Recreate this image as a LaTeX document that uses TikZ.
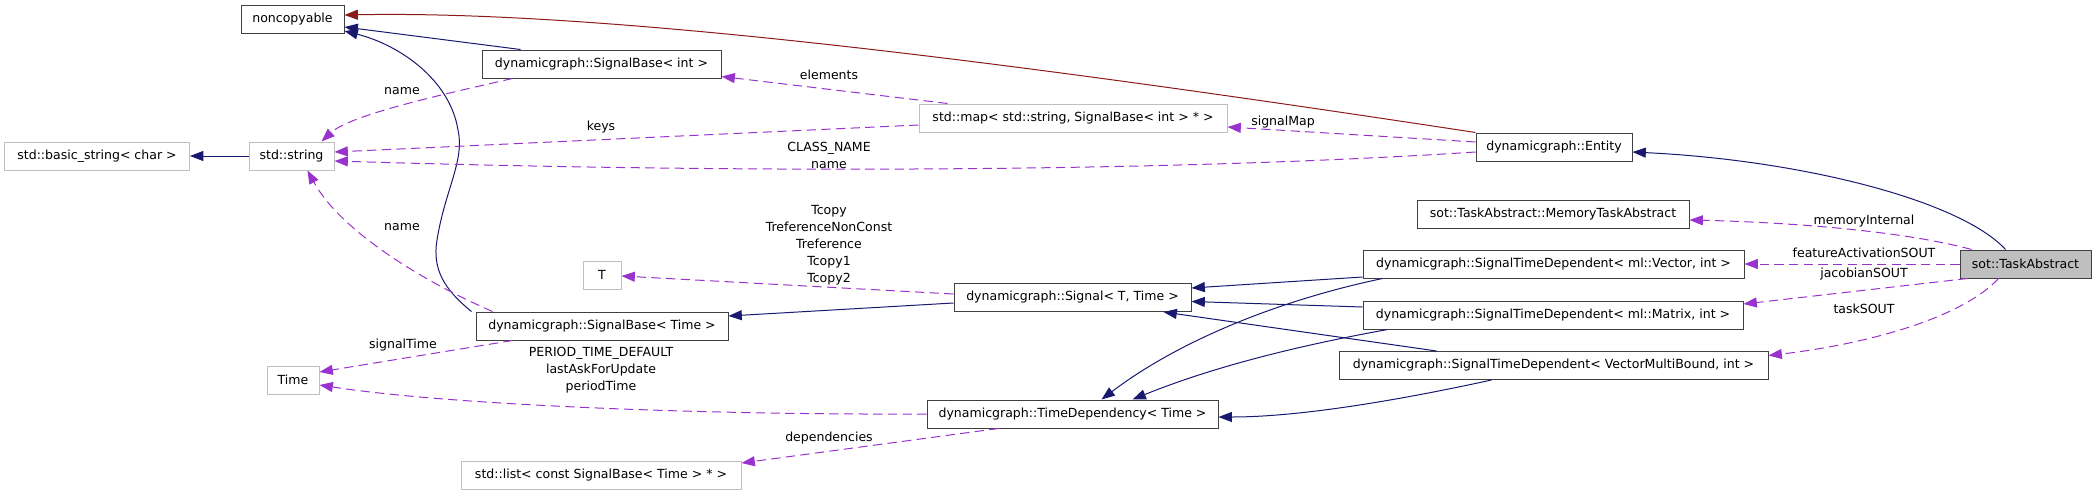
\documentclass[tikz,border=0pt]{standalone}
\usepackage{fontspec}
\setmainfont{DejaVu Sans}
\usetikzlibrary{arrows.meta,calc}
\definecolor{inherit}{HTML}{191970}
\definecolor{privinh}{HTML}{8B1A1A}
\definecolor{usage}{HTML}{9A32CD}
\definecolor{docframe}{HTML}{404040}
\definecolor{undoc}{HTML}{BFBFBF}

\begin{document}
\begin{tikzpicture}[x=0.75pt, y=-0.75pt, font=\fontsize{9.4}{12.75}\selectfont, >={Triangle[length=10pt,width=7.5pt]},
  cls/.style={draw=docframe, fill=white, line width=0.75pt, minimum height=21pt, inner sep=0pt, minimum width=#1*0.75pt},
  ext/.style={cls=#1, draw=undoc},
  inh/.style={->, inherit, line width=0.75pt},
  priv/.style={->, privinh, line width=0.75pt},
  use/.style={->, usage, line width=0.75pt, dash pattern=on 7pt off 4pt},
  lbl/.style={align=center, inner sep=0pt}]
  \useasboundingbox (0,0) rectangle (2096,493);
  \node[cls=103] (noncopyable) at (292.5,19) {noncopyable};
  \node[cls=239] (sbint) at (601.5,64) {dynamicgraph::SignalBase< int >};
  \node[ext=185] (bstring) at (97,156) {std::basic\_string< char >};
  \node[ext=85] (stdstring) at (291.5,156) {std::string};
  \node[ext=308] (sigmap) at (1073,118) {std::map< std::string, SignalBase< int > * >};
  \node[cls=156] (entity) at (1554,147) {dynamicgraph::Entity};
  \node[cls=272] (memtask) at (1553,214) {sot::TaskAbstract::MemoryTaskAbstract};
  \node[ext=38] (tparam) at (602,275) {T};
  \node[cls=252] (sbtime) at (602,326) {dynamicgraph::SignalBase< Time >};
  \node[ext=52] (time) at (293,380) {Time};
  \node[ext=280] (deplist) at (601,475) {std::list< const SignalBase< Time > * >};
  \node[cls=237] (signal) at (1072.5,297.5) {dynamicgraph::Signal< T, Time >};
  \node[cls=291] (timedep) at (1072.5,414) {dynamicgraph::TimeDependency< Time >};
  \node[cls=381] (stdvec) at (1553.5,264) {dynamicgraph::SignalTimeDependent< ml::Vector, int >};
  \node[cls=380] (stdmat) at (1553,315) {dynamicgraph::SignalTimeDependent< ml::Matrix, int >};
  \node[cls=429] (stdvmb) at (1553.5,365.5) {dynamicgraph::SignalTimeDependent< VectorMultiBound, int >};
  \node[cls=131, fill=undoc] (task) at (2025.5,264) {sot::TaskAbstract};

  \draw[inh] ($(sbint.north west)+(39,0)$) -- ($(noncopyable.east)+(0,8)$);
  \draw[inh] ($(sbtime.north west)+(-4,0)$) .. controls (445,290) and (432,270) .. (437,240)
    .. controls (445,190) and (465,160) .. (458,130) .. controls (450,80) and (400,45) .. ($(noncopyable.east)+(0,12)$);
  \draw[inh] (stdstring.west) -- (bstring.east);
  \draw[inh] ($(signal.west)+(0,5.5)$) -- ($(sbtime.east)+(0,-10)$);
  \draw[inh] ($(stdvec.west)+(0,13)$) -- ($(signal.east)+(0,-9.5)$);
  \draw[inh] ($(stdmat.west)+(0,-8)$) -- ($(signal.east)+(0,4)$);
  \draw[inh] ($(stdvmb.north west)+(98,0)$) -- ($(signal.south east)+(-28,0)$);
  \draw[inh] ($(stdvec.south west)+(20,0)$) .. controls (1280,300) and (1180,340) .. ($(timedep.north west)+(175,0)$);
  \draw[inh] ($(stdmat.south west)+(25,0)$) .. controls (1330,340) and (1230,360) .. ($(timedep.north west)+(206,0)$);
  \draw[inh] ($(stdvmb.south west)+(153,0)$) .. controls (1400,400) and (1300,417) .. ($(timedep.east)+(0,3)$);
  \draw[priv] (entity.north west) .. controls (1000,60) and (600,10) .. ($(noncopyable.east)+(0,-4)$);
  \draw[inh] ($(task.north west)+(46,0)$) .. controls (1960,200) and (1800,160) .. ($(entity.east)+(0,5)$);

  \draw[use] ($(sbint.south west)+(31,0)$) .. controls (440,95) and (350,115) .. ($(stdstring.north)+(30,0)$);
  \node[lbl] (lname1) at (402,91) {name};
  \draw[use] ($(sigmap.north west)+(29,0)$) -- ($(sbint.south east)+(0,-2)$);
  \node[lbl] (lelements) at (829,75) {elements};
  \draw[use] ($(sigmap.west)+(0,7)$) -- ($(stdstring.east)+(0,-4)$);
  \node[lbl] (lkeys) at (601,127) {keys};
  \draw[use] ($(entity.west)+(0,-5)$) -- ($(sigmap.east)+(0,9)$);
  \node[lbl] (lsignalmap) at (1283,122) {signalMap};
  \draw[use] ($(entity.west)+(0,5)$) .. controls (1200,170) and (800,175) .. ($(stdstring.east)+(0,5)$);
  \node[lbl] (lclassname) at (829,155) {CLASS\_NAME\\name};
  \draw[use] ($(sbtime.north west)+(17,0)$) .. controls (420,280) and (340,230) .. ($(stdstring.south)+(16,0)$);
  \node[lbl] (lname2) at (402,227) {name};
  \draw[use] ($(signal.west)+(0,-3.5)$) -- ($(tparam.east)+(0,1)$);
  \node[lbl] (ltcopy) at (829,245) {Tcopy\\TreferenceNonConst\\Treference\\Tcopy1\\Tcopy2};
  \draw[use] ($(sbtime.south west)+(37,0)$) -- ($(time.east)+(0,-8)$);
  \node[lbl] (lsignaltime) at (403,345) {signalTime};
  \draw[use] (timedep.west) .. controls (700,415) and (450,405) .. ($(time.east)+(0,5)$);
  \node[lbl] (lperiod) at (601,370) {PERIOD\_TIME\_DEFAULT\\lastAskForUpdate\\periodTime};
  \draw[use] ($(timedep.south west)+(72,0)$) -- ($(deplist.east)+(0,-12)$);
  \node[lbl] (ldeps) at (829,438) {dependencies};
  \draw[use] ($(task.north west)+(12,0)$) .. controls (1900,230) and (1780,222) .. ($(memtask.east)+(0,6)$);
  \node[lbl] (lmemory) at (1864,221) {memoryInternal};
  \draw[use] (task.west) -- (stdvec.east);
  \node[lbl] (lfeature) at (1864,253) {featureActivationSOUT};
  \draw[use] ($(task.south west)+(8,0)$) -- ($(stdmat.east)+(0,-11)$);
  \node[lbl] (ljacobian) at (1864,274) {jacobianSOUT};
  \draw[use] ($(task.south west)+(39,0)$) .. controls (1960,320) and (1860,345) .. ($(stdvmb.east)+(0,-10)$);
  \node[lbl] (ltasksout) at (1864,309) {taskSOUT};
\end{tikzpicture}
\end{document}
